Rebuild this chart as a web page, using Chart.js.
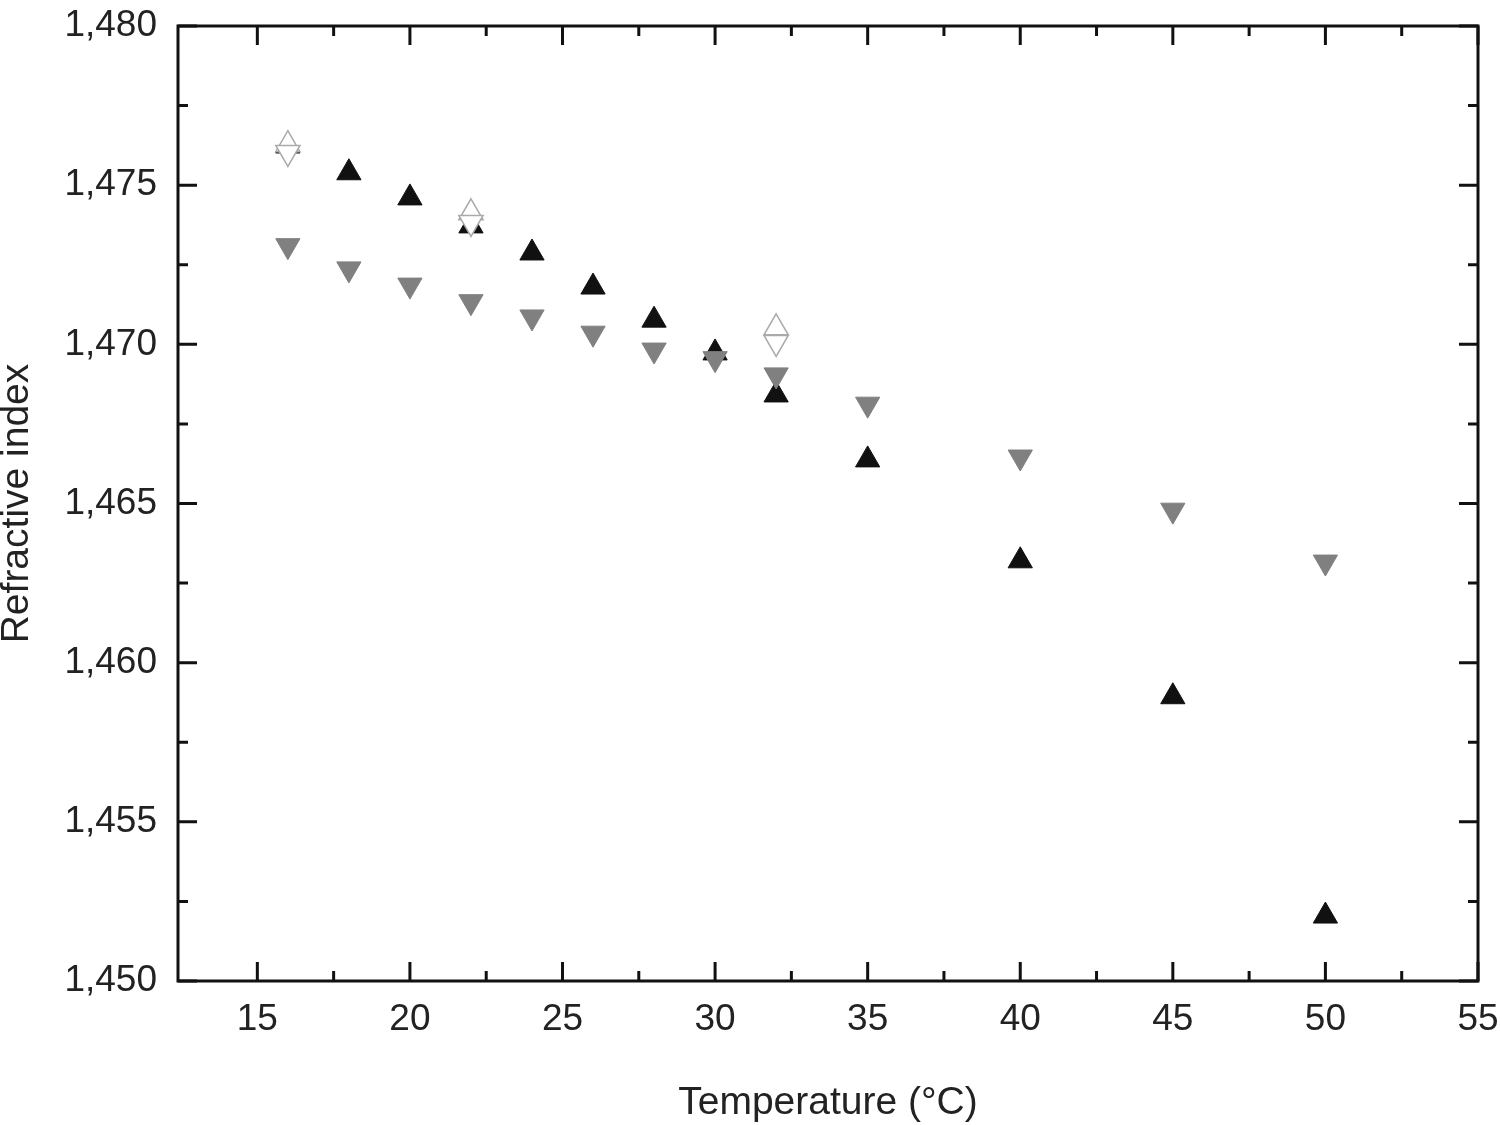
<!DOCTYPE html>
<html>
<head>
<meta charset="utf-8">
<script src="https://cdn.jsdelivr.net/npm/chart.js@4/dist/chart.umd.min.js"></script>
<style>
  html, body { margin: 0; padding: 0; background: #fff; }
  #wrap { width: 1500px; height: 1125px; }
</style>
</head>
<body>
<div id="wrap"><canvas id="c-ri"></canvas></div>
<script>
// temperatures (°C) of the filled series
const temps = [16, 18, 20, 22, 24, 26, 28, 30, 32, 35, 40, 45, 50];
const blackUp = [1.47623, 1.47539, 1.47460, 1.47372, 1.47287, 1.47180, 1.47076, 1.46973, 1.46841, 1.46637, 1.46320, 1.45893, 1.45204];
const grayDown = [1.47310, 1.47237, 1.47186, 1.47134, 1.47086, 1.47035, 1.46982, 1.46955, 1.46904, 1.46812, 1.46646, 1.46479, 1.46316];

// open markers, only at three temperatures
const openTemps = [16, 22, 32];
const openUp = [1.47627, 1.47413, 1.47052];
const openDown = [1.47603, 1.47383, 1.47006];

const xTicks = [15, 20, 25, 30, 35, 40, 45, 50, 55];
const yTicks = [1.450, 1.455, 1.460, 1.465, 1.470, 1.475, 1.480];

const FONT = "'Liberation Sans', Arial, Helvetica, sans-serif";

function pts(xs, ys) { return xs.map((x, i) => ({ x: x, y: ys[i] })); }

// frame + inward ticks on all four sides
const frameTicks = {
    id: 'frameTicks',
    afterDraw(chart) {
        const { ctx, chartArea: a, scales: { x, y } } = chart;
        ctx.save();
        ctx.strokeStyle = '#111';
        ctx.lineWidth = 3;
        ctx.lineCap = 'butt';
        ctx.strokeRect(a.left, a.top, a.right - a.left, a.bottom - a.top);
        ctx.beginPath();
        for (let v = 15; v <= 55; v += 2.5) {
            const len = (v % 5 === 0) ? 19 : 10;
            const px = x.getPixelForValue(v);
            ctx.moveTo(px, a.bottom); ctx.lineTo(px, a.bottom - len);
            ctx.moveTo(px, a.top); ctx.lineTo(px, a.top + len);
        }
        for (let k = 0; k <= 12; k++) {
            const v = 1.450 + k * 0.0025;
            const len = (k % 2 === 0) ? 19 : 10;
            const py = y.getPixelForValue(v);
            ctx.moveTo(a.left, py); ctx.lineTo(a.left + len, py);
            ctx.moveTo(a.right, py); ctx.lineTo(a.right - len, py);
        }
        ctx.stroke();
        ctx.restore();
    }
};

new Chart(document.getElementById('c-ri'), {
    type: 'scatter',
    data: {
        datasets: [
            { label: 'open down', data: pts(openTemps, openDown), pointStyle: 'triangle', rotation: 180,
              pointRadius: 14, backgroundColor: '#fff', borderColor: '#aaa', borderWidth: 1.5, order: 1 },
            { label: 'open up', data: pts(openTemps, openUp), pointStyle: 'triangle',
              pointRadius: 14, backgroundColor: '#fff', borderColor: '#aaa', borderWidth: 1.5, order: 2 },
            { label: 'up', data: pts(temps, blackUp), pointStyle: 'triangle',
              pointRadius: 14, backgroundColor: '#111', borderColor: '#111', borderWidth: 1, order: 4 },
            { label: 'down', data: pts(temps, grayDown), pointStyle: 'triangle', rotation: 180,
              pointRadius: 14, backgroundColor: '#808080', borderColor: '#808080', borderWidth: 1, order: 3 }
        ]
    },
    options: {
        responsive: true, maintainAspectRatio: false, animation: false,
        layout: { padding: { top: 26, right: 22, left: 0, bottom: 0 } },
        plugins: { legend: { display: false }, tooltip: { enabled: false } },
        elements: { point: { hoverRadius: 14 } },
        scales: {
            x: {
                type: 'linear', min: 12.4, max: 55,
                afterBuildTicks: s => { s.ticks = xTicks.map(v => ({ value: v })); },
                afterFit: s => { s.height = 144; s.paddingLeft = 0; s.paddingRight = 0; },
                grid: { display: false, drawTicks: false },
                border: { display: false },
                ticks: { color: '#222', padding: 17, font: { family: FONT, size: 37 } },
                title: { display: true, text: 'Temperature (°C)', color: '#222', padding: 0,
                         font: { family: FONT, size: 39, lineHeight: 1.1 } }
            },
            y: {
                type: 'linear', min: 1.450, max: 1.480,
                afterBuildTicks: s => { s.ticks = yTicks.map(v => ({ value: v })); },
                afterFit: s => { s.width = 178; s.paddingTop = 0; s.paddingBottom = 0; },
                grid: { display: false, drawTicks: false },
                border: { display: false },
                ticks: { color: '#222', padding: 21, font: { family: FONT, size: 37 },
                         callback: v => v.toFixed(3).replace('.', ',') },
                title: { display: true, text: 'Refractive index', color: '#222', padding: 0,
                         font: { family: FONT, size: 39, lineHeight: 0.9 } }
            }
        }
    },
    plugins: [frameTicks]
});
</script>
</body>
</html>
